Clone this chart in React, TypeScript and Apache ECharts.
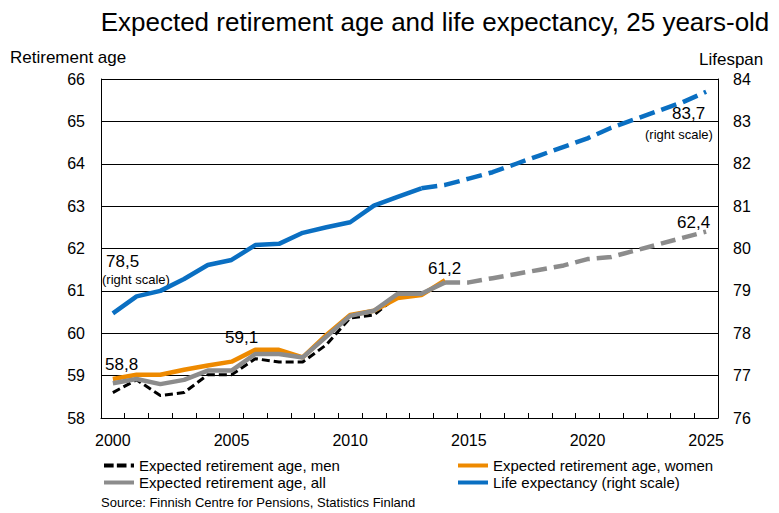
import React, { useEffect, useRef } from "react";
import * as echarts from "echarts";

const years: string[] = [];
for (let y = 2000; y <= 2025; y++) years.push(String(y));

// Retirement age (left scale), 2000..2014
const men = [58.6, 58.9, 58.53, 58.6, 59.02, 59.02, 59.4, 59.32, 59.32, 59.73, 60.36, 60.43, 60.88, 60.9];
const women = [58.92, 59.02, 59.02, 59.14, 59.24, 59.33, 59.61, 59.61, 59.43, 59.96, 60.43, 60.53, 60.83, 60.9, 61.25];
const all = [58.82, 58.92, 58.8, 58.9, 59.12, 59.12, 59.51, 59.51, 59.43, 59.92, 60.41, 60.53, 60.93, 60.93, 61.2];
// Projection of "all", 2014..2025
const allProjection = [61.2, 61.2, 61.3, 61.4, 61.5, 61.6, 61.75, 61.8, 61.95, 62.1, 62.25, 62.4];
// Life expectancy (right scale), 2000..2013
const lifeExp = [78.47, 78.87, 79.0, 79.28, 79.61, 79.73, 80.08, 80.11, 80.37, 80.5, 80.62, 81.01, 81.22, 81.42];
// Projection of life expectancy, 2013..2025
const lifeProjection = [81.42, 81.5, 81.65, 81.8, 82.0, 82.2, 82.4, 82.6, 82.85, 83.05, 83.25, 83.45, 83.7];

const leftTicks = { min: 58, max: 66, interval: 1 };
const rightTicks = { min: 76, max: 84, interval: 1 };

const FONT = "'Liberation Sans', Arial, sans-serif";
const BLUE = "#0A6FC2";
const ORANGE = "#EE8A00";
const GREY = "#8C8C8C";

const DASH_ICON = "path://M0,0h9v3h-9z M12,0h9v3h-9z M25,0h3v3h-3z";

function pad(arr: number[], start: number): (number | null)[] {
  const out: (number | null)[] = years.map(() => null);
  arr.forEach((v, i) => (out[start + i] = v));
  return out;
}

export default function App() {
  const ref = useRef<HTMLDivElement>(null);
  useEffect(() => {
    if (!ref.current) return;
    const chart = echarts.init(ref.current, undefined, { renderer: "svg" });
    const txt = (x: number, y: number, text: string, size: number, align = "left") => ({
      type: "text",
      x,
      y,
      style: { text, fontSize: size, fontFamily: FONT, fill: "#000", align, verticalAlign: "middle" },
    });
    const legendBase = {
      top: 453,
      orient: "vertical",
      itemWidth: 30,
      itemHeight: 4,
      itemGap: 2,
      symbolKeepAspect: false,
      textStyle: { fontSize: 15, lineHeight: 15, color: "#000", fontFamily: FONT },
    };
    chart.setOption({
      animation: false,
      backgroundColor: "#fff",
      textStyle: { fontFamily: FONT },
      grid: { left: 101, right: 61, top: 79, bottom: 95 },
      xAxis: {
        type: "category",
        data: years,
        boundaryGap: true,
        axisLine: { lineStyle: { color: "#000", width: 1 } },
        axisTick: { show: true, inside: true, length: 5, interval: 0, lineStyle: { color: "#000" } },
        axisLabel: { interval: 4, fontSize: 16, color: "#000", margin: 14, fontFamily: FONT },
        splitLine: { show: false },
      },
      yAxis: [
        {
          type: "value",
          ...leftTicks,
          position: "left",
          axisLine: { show: true, lineStyle: { color: "#000" } },
          axisTick: { show: false },
          axisLabel: { fontSize: 16, color: "#000", margin: 16, fontFamily: FONT },
          splitLine: { show: true, lineStyle: { color: "#000", width: 1 } },
        },
        {
          type: "value",
          ...rightTicks,
          position: "right",
          axisLine: { show: true, lineStyle: { color: "#000" } },
          axisTick: { show: false },
          axisLabel: { fontSize: 16, color: "#000", margin: 15, fontFamily: FONT },
          splitLine: { show: false },
        },
      ],
      legend: [
        {
          ...legendBase,
          left: 99,
          data: [
            { name: "Expected retirement age, men", icon: DASH_ICON },
            { name: "Expected retirement age, all", icon: "rect" },
          ],
        },
        {
          ...legendBase,
          left: 453,
          data: [
            { name: "Expected retirement age, women", icon: "rect" },
            { name: "Life expectancy (right scale)", icon: "rect" },
          ],
        },
      ],
      series: [
        {
          name: "Life expectancy (right scale)",
          type: "line",
          yAxisIndex: 1,
          data: pad(lifeExp, 0),
          symbol: "none",
          lineStyle: { color: BLUE, width: 4.5 },
          itemStyle: { color: BLUE },
        },
        {
          name: "Life expectancy projection",
          type: "line",
          yAxisIndex: 1,
          data: pad(lifeProjection, 13),
          symbol: "none",
          lineStyle: { color: BLUE, width: 4.5, type: [16, 7] },
          itemStyle: { color: BLUE },
        },
        {
          name: "Expected retirement age, men",
          type: "line",
          data: pad(men, 0),
          symbol: "none",
          lineStyle: { color: "#000", width: 3, type: [8, 4] },
          itemStyle: { color: "#000" },
        },
        {
          name: "Expected retirement age, women",
          type: "line",
          data: pad(women, 0),
          symbol: "none",
          lineStyle: { color: ORANGE, width: 4.5 },
          itemStyle: { color: ORANGE },
        },
        {
          name: "Expected retirement age, all",
          type: "line",
          data: pad(all, 0),
          symbol: "none",
          lineStyle: { color: GREY, width: 4.5 },
          itemStyle: { color: GREY },
        },
        {
          name: "All projection",
          type: "line",
          data: pad(allProjection, 14),
          symbol: "none",
          lineStyle: { color: GREY, width: 4.5, type: [15, 7] },
          itemStyle: { color: GREY },
        },
      ],
      graphic: [
        txt(435, 22, "Expected retirement age and life expectancy, 25 years-old", 26, "center"),
        txt(10, 57, "Retirement age", 17),
        txt(699, 59, "Lifespan", 17),
        txt(106, 261, "78,5", 17),
        txt(102, 279, "(right scale)", 13),
        txt(105, 364, "58,8", 17),
        txt(225, 337, "59,1", 17),
        txt(428, 268, "61,2", 17),
        txt(677, 222, "62,4", 17),
        txt(672, 113, "83,7", 17),
        txt(645, 134, "(right scale)", 13),
        txt(101, 502, "Source: Finnish Centre for Pensions, Statistics Finland", 13),
      ],
    });
    return () => chart.dispose();
  }, []);
  return <div ref={ref} style={{ position: "fixed", left: 0, top: 0, width: 779, height: 513 }} />;
}
